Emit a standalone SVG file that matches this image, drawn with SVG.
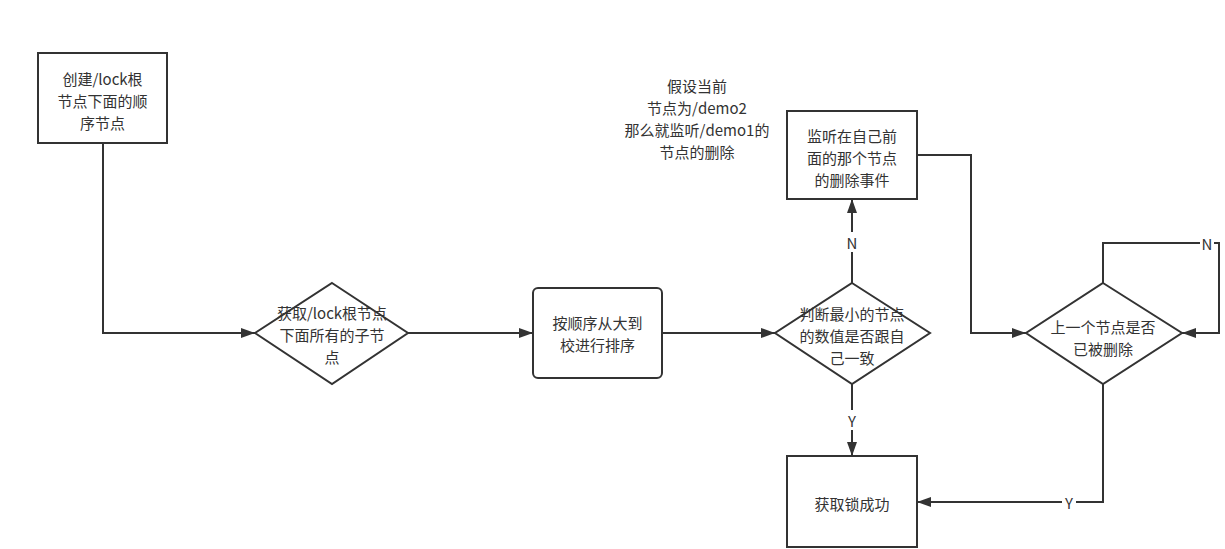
<svg xmlns="http://www.w3.org/2000/svg" width="1225" height="549" viewBox="0 0 1225 549">
<defs>
<marker id="arr" viewBox="0 0 14 10" refX="14" refY="5" markerWidth="14" markerHeight="10" markerUnits="userSpaceOnUse" orient="auto">
<path d="M0,0 L14,5 L0,10 Z" fill="#333"/>
</marker>
<style>
.n{fill:#fff;stroke:#333;stroke-width:2}
.e{fill:none;stroke:#333;stroke-width:2}
text{font-family:"Noto Sans CJK SC","Liberation Sans",sans-serif;font-size:15px;fill:#333;text-anchor:middle;dominant-baseline:central}
.lb{fill:#fff;stroke:none}
</style>
</defs>
<rect width="1225" height="549" fill="#fff"/>
<g id="connectors">
<path class="e" d="M103,143 V333 H255" marker-end="url(#arr)"/>
<path class="e" d="M408,333 H533" marker-end="url(#arr)"/>
<path class="e" d="M662,333 H775" marker-end="url(#arr)"/>
<path class="e" d="M852,283 V199" marker-end="url(#arr)"/>
<path class="e" d="M917,155 H971 V333 H1026" marker-end="url(#arr)"/>
<path class="e" d="M1103,283 V243 H1219 V333 H1182" marker-end="url(#arr)"/>
<path class="e" d="M852,384 V456" marker-end="url(#arr)"/>
<path class="e" d="M1103,384 V502 H917" marker-end="url(#arr)"/>
<rect class="lb" x="845" y="232" width="14" height="20"/>
<text x="852" y="242">N</text>
<rect class="lb" x="845" y="410" width="14" height="20"/>
<text x="852" y="420">Y</text>
<rect class="lb" x="1200" y="233" width="14" height="20"/>
<text x="1207" y="243">N</text>
<rect class="lb" x="1062" y="492" width="14" height="20"/>
<text x="1069" y="502">Y</text>
</g>
<g id="n1">
<rect class="n" x="38" y="53" width="129" height="90"/>
<text x="102.5" y="78">创建/lock根</text>
<text x="102.5" y="100">节点下面的顺</text>
<text x="102.5" y="122">序节点</text>
</g>
<g id="n2">
<path class="n" d="M332,283 L408,333 L332,384 L255,333 Z"/>
<text x="332" y="312">获取/lock根节点</text>
<text x="332" y="334">下面所有的子节</text>
<text x="332" y="356">点</text>
</g>
<g id="n3">
<rect class="n" x="533" y="288" width="129" height="90" rx="5"/>
<text x="597.5" y="322">按顺序从大到</text>
<text x="597.5" y="344">校进行排序</text>
</g>
<g id="n4">
<path class="n" d="M852,283 L930,333 L852,384 L775,333 Z"/>
<text x="852" y="313">判断最小的节点</text>
<text x="852" y="335">的数值是否跟自</text>
<text x="852" y="357">己一致</text>
</g>
<g id="n5">
<rect class="n" x="787" y="111" width="130" height="88"/>
<text x="852" y="135">监听在自己前</text>
<text x="852" y="157">面的那个节点</text>
<text x="852" y="179">的删除事件</text>
</g>
<g id="n6">
<path class="n" d="M1103,283 L1182,333 L1103,384 L1026,333 Z"/>
<text x="1103" y="326">上一个节点是否</text>
<text x="1103" y="348">已被删除</text>
</g>
<g id="n7">
<rect class="n" x="787" y="456" width="130" height="91"/>
<text x="852" y="503">获取锁成功</text>
</g>
<g id="note">
<text x="697" y="85">假设当前</text>
<text x="697" y="107">节点为/demo2</text>
<text x="697" y="129">那么就监听/demo1的</text>
<text x="697" y="151">节点的删除</text>
</g>
</svg>
